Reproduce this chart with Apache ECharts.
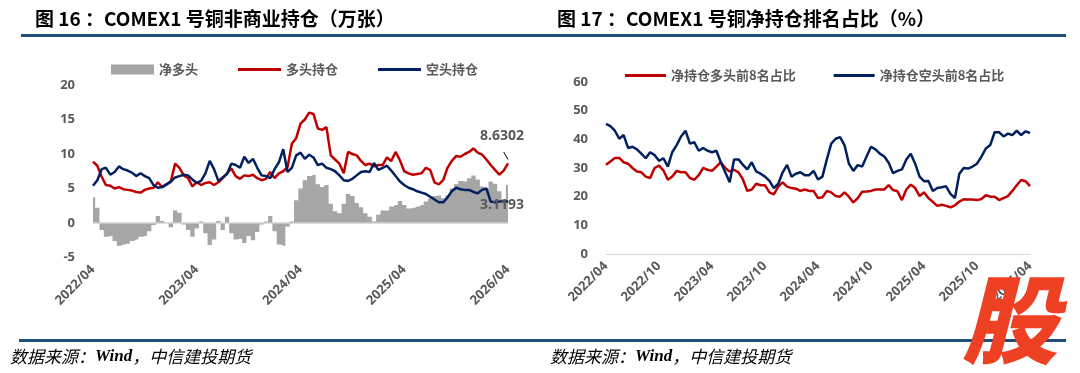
<!DOCTYPE html>
<html>
<head>
<meta charset="utf-8">
<script src="https://cdn.jsdelivr.net/npm/echarts@6/dist/echarts.min.js"></script>
<style>
html,body{margin:0;padding:0;background:#fff;}
#c{width:1080px;height:373px;}
</style>
</head>
<body>
<div id="c"></div>
<script>
// ---- data ----
const leftTicks = ['2022/04','2023/04','2024/04','2025/04','2026/04'];
const rightTicks = ['2022/04','2022/10','2023/04','2023/10','2024/04','2024/10','2025/04','2025/10','2026/04'];

const netLong = [3.7,2.2,-1.0,-2.0,-1.9,-2.6,-3.3,-3.1,-3.0,-2.6,-2.4,-2.0,-1.9,-1.2,-0.3,1.0,0.3,0.0,-0.6,1.8,
1.5,-0.2,-1.0,-2.0,-0.8,0.2,-1.5,-3.2,-2.4,0.3,-1.0,0.9,-1.5,-2.4,-2.3,-2.9,-1.9,-2.5,-1.3,-0.2,
0.2,1.0,-1.2,-3.1,-3.3,-0.5,0.2,3.3,5.0,6.2,6.8,7.0,5.6,5.2,5.5,2.8,1.7,1.4,2.8,4.2,
3.9,2.9,2.3,1.4,0.9,0.2,1.2,1.8,1.8,2.4,2.6,3.2,2.6,2.1,2.2,2.4,2.6,3.1,3.6,3.9,
4.0,3.6,4.0,5.0,5.6,6.1,6.0,6.5,6.9,6.3,5.3,5.0,6.0,5.7,4.6,3.4,5.51];

const longPos = [8.9,8.3,6.7,5.5,5.4,5.0,5.2,4.9,4.8,4.7,4.5,4.4,4.8,5.0,5.1,5.9,5.2,5.6,6.0,8.6,
8.0,6.9,6.5,5.3,5.9,5.5,5.8,5.9,5.5,5.9,6.5,7.2,7.9,6.8,6.4,6.9,6.8,7.0,6.5,6.2,
6.4,7.4,6.5,7.2,7.5,8.1,11.5,12.3,14.4,15.0,16.0,15.8,13.7,13.5,13.9,9.8,9.2,8.6,7.2,10.3,
10.0,9.8,9.0,8.4,8.6,8.2,8.4,8.4,9.5,9.0,10.3,9.1,7.5,7.2,7.0,7.1,7.2,8.0,7.7,5.9,
5.6,6.2,8.0,9.0,9.7,9.6,10.0,10.3,10.8,10.2,9.9,9.2,8.4,7.7,7.0,7.6,8.6302];

const shortPos = [5.4,6.2,7.8,8.0,7.0,7.4,8.2,7.8,7.6,7.3,6.8,7.2,6.8,6.5,5.5,5.1,5.2,5.6,6.0,6.6,
6.8,7.0,6.9,6.3,5.8,6.1,7.2,9.0,7.8,6.1,6.6,7.1,8.6,8.4,8.0,9.6,8.7,9.3,8.0,6.9,
6.8,6.5,7.8,8.8,10.7,7.4,8.0,9.8,10.2,9.3,9.9,9.5,8.4,8.6,8.0,7.8,7.5,6.9,6.2,6.1,
6.4,6.9,7.4,7.5,7.4,8.7,7.7,8.0,8.3,7.6,6.8,6.0,5.5,5.1,4.9,4.6,4.4,4.2,3.8,3.4,
3.0,3.0,3.7,4.6,5.1,4.9,4.8,4.8,4.5,4.3,4.8,5.0,3.1,3.0,3.1,3.2,3.1193];

const top8Long = [31.1,32.3,33.5,33.5,32.0,31.5,30.0,28.8,28.5,27.0,26.5,30.0,30.8,29.2,25.9,27.0,29.0,28.5,28.5,26.5,
25.9,27.5,30.0,29.4,29.0,30.5,32.0,30.0,28.8,29.4,28.5,26.0,22.0,22.5,24.5,24.0,24.0,21.5,20.8,23.5,
25.0,23.5,23.0,22.8,22.0,22.5,22.0,22.0,19.5,19.8,22.0,21.5,20.2,20.0,21.5,20.0,18.0,19.5,21.7,21.8,
22.0,22.5,22.5,22.5,24.0,22.3,21.9,18.8,22.5,24.2,23.0,20.2,21.5,19.5,18.2,16.8,17.2,16.8,16.3,17.0,
18.3,19.1,19.0,19.0,18.8,19.2,20.5,20.0,20.0,18.8,19.5,20.2,22.0,24.0,25.8,25.4,23.7];

const top8Short = [45.4,44.6,43.0,40.2,41.5,37.0,37.4,36.5,35.0,33.4,35.5,34.5,32.5,33.4,30.5,35.5,38.0,41.0,43.0,38.5,
39.0,36.0,37.0,36.0,35.5,36.0,32.0,28.5,25.0,33.0,33.0,31.1,29.5,32.0,28.8,28.0,27.0,25.5,23.0,24.5,
28.5,31.1,27.0,28.0,28.5,27.5,27.5,29.0,26.0,27.0,33.0,38.5,40.2,40.8,38.0,31.5,29.0,31.0,30.5,34.0,
37.4,36.5,35.0,34.0,31.8,28.2,29.0,29.5,33.0,35.0,31.5,27.0,25.4,25.5,22.0,23.0,23.3,23.6,21.0,19.5,
28.0,30.0,29.8,30.5,31.5,34.0,36.8,38.0,42.5,42.5,41.0,42.0,41.5,43.0,41.5,42.8,42.2];

const endLabels = ['8.6302', '3.1193'];

// category labels: two points per month, 2022/04 .. 2026/04
const categories = [];
for (let i = 0; i < longPos.length; i++) {
  const m = Math.floor(i / 2) + 3;
  const y = 2022 + Math.floor(m / 12);
  const mo = (m % 12) + 1;
  categories.push(y + '/' + (mo < 10 ? '0' + mo : mo) + (i % 2 ? '-b' : '-a'));
}

// ---- styles ----
const GRAY_TXT = '#595959';
const RED = '#C00000';
const NAVY = '#002060';
const BAR = '#A6A6A6';
const RULE = '#1F4E79';
const FONT = '"Open Sans","Noto Sans CJK SC",sans-serif';
const CJK = '"Noto Sans CJK SC","Open Sans",sans-serif';
const LINE_ICON = 'path://M0,0 L44,0 L44,3 L0,3 Z';

const chart = echarts.init(document.getElementById('c'), null, {renderer: 'canvas'});

const axisLabelY = {color: GRAY_TXT, fontWeight: 'bold', fontSize: 13, fontFamily: FONT, margin: 18};
function xLabel(step, ticks) {
  return {
    color: GRAY_TXT, fontWeight: 'bold', fontSize: 13, fontFamily: FONT,
    rotate: 45, margin: 10,
    interval: function (idx) { return idx % step === 0; },
    formatter: function (val, idx) { return ticks[idx / step] || ''; }
  };
}

const lastIdx = longPos.length - 1;
const labelFont = {color: GRAY_TXT, fontWeight: 'bold', fontSize: 14, fontFamily: FONT};
const longData = longPos.map(function (v, i) {
  if (i === lastIdx) {
    return {value: v, label: Object.assign({show: true, formatter: endLabels[0], position: 'top', offset: [-6, -15]}, labelFont)};
  }
  return v;
});
const shortData = shortPos.map(function (v, i) {
  if (i === lastIdx) {
    return {value: v, label: Object.assign({show: true, formatter: endLabels[1], position: 'inside', offset: [-6, 4]}, labelFont)};
  }
  return v;
});

function lineSeries(name, xi, data, color) {
  return {
    name: name, type: 'line', xAxisIndex: xi, yAxisIndex: xi, data: data,
    symbol: 'circle', symbolSize: 0, showSymbol: true, showAllSymbol: true,
    lineStyle: {color: color, width: 2.5}, itemStyle: {color: color},
    label: {show: false}
  };
}

const s1 = lineSeries('多头持仓', 0, longData, RED);
s1.markLine = {silent: true, symbol: 'none', label: {show: false},
  lineStyle: {color: '#000', width: 1, type: 'solid'},
  data: [[{coord: [lastIdx - 1, 10.3]}, {coord: [lastIdx, 9.2]}]]};

const option = {
  animation: false,
  backgroundColor: '#fff',
  textStyle: {fontFamily: CJK},
  grid: [
    {left: 93, top: 85, width: 415, height: 172.5},
    {left: 606, top: 82, width: 424, height: 172}
  ],
  legend: [
    {
      left: 106, top: 58, itemWidth: 43, itemHeight: 10, itemGap: 40,
      textStyle: {color: GRAY_TXT, fontWeight: 'bold', fontSize: 13, fontFamily: CJK},
      data: [{name: '净多头', icon: 'rect'}, {name: '多头持仓', icon: LINE_ICON}, {name: '空头持仓', icon: LINE_ICON}]
    },
    {
      left: 620, top: 64, itemWidth: 41, itemHeight: 10, itemGap: 38,
      textStyle: {color: GRAY_TXT, fontWeight: 'bold', fontSize: 13, fontFamily: CJK},
      data: [{name: '净持仓多头前8名占比', icon: LINE_ICON}, {name: '净持仓空头前8名占比', icon: LINE_ICON}]
    }
  ],
  xAxis: [
    {gridIndex: 0, type: 'category', data: categories, boundaryGap: false,
     axisLine: {show: false}, axisTick: {show: false}, splitLine: {show: false},
     axisLabel: xLabel(24, leftTicks)},
    {gridIndex: 1, type: 'category', data: categories, boundaryGap: false,
     axisLine: {show: true, lineStyle: {color: '#D9D9D9', width: 1}}, axisTick: {show: false}, splitLine: {show: false},
     axisLabel: xLabel(12, rightTicks)}
  ],
  yAxis: [
    {gridIndex: 0, type: 'value', min: -5, max: 20, interval: 5,
     axisLine: {show: false}, axisTick: {show: false}, splitLine: {show: false}, axisLabel: axisLabelY},
    {gridIndex: 1, type: 'value', min: 0, max: 60, interval: 10,
     axisLine: {show: false}, axisTick: {show: false}, splitLine: {show: false}, axisLabel: axisLabelY}
  ],
  series: [
    {name: '净多头', type: 'line', step: 'middle', xAxisIndex: 0, yAxisIndex: 0, data: netLong,
     symbol: 'none', showSymbol: false,
     lineStyle: {width: 0, color: BAR}, itemStyle: {color: BAR},
     areaStyle: {color: BAR, opacity: 1},
     markLine: {silent: true, symbol: 'none', label: {show: false},
       lineStyle: {color: '#D0D0D0', width: 1.5, type: 'solid'}, data: [{yAxis: 0}]}},
    s1,
    lineSeries('空头持仓', 0, shortData, NAVY),
    lineSeries('净持仓多头前8名占比', 1, top8Long, RED),
    lineSeries('净持仓空头前8名占比', 1, top8Short, NAVY)
  ],
  graphic: [
    {type: 'text', left: 35, top: 9, style: {text: '图 16 ：COMEX1 号铜非商业持仓（万张）', fill: '#000',
      font: 'bold 19px "Noto Sans CJK SC", sans-serif'}},
    {type: 'text', left: 557, top: 9, style: {text: '图 17 ：COMEX1 号铜净持仓排名占比（%）', fill: '#000',
      font: 'bold 19px "Noto Sans CJK SC", sans-serif'}},
    {type: 'rect', shape: {x: 21, y: 34, width: 1045, height: 3}, style: {fill: RULE}},
    {type: 'rect', shape: {x: 19, y: 339, width: 1047, height: 3}, style: {fill: RULE}},
    {type: 'text', left: 10, top: 348, style: {
      text: '{a|数据来源：}{b|Wind}{a|，中信建投期货}',
      rich: {
        a: {fill: '#000', font: 'italic 17px "Noto Sans CJK SC", serif'},
        b: {fill: '#000', font: 'italic bold 17px "Liberation Serif", serif'}
      }}},
    {type: 'text', left: 550, top: 348, style: {
      text: '{a|数据来源：}{b|Wind}{a|，中信建投期货}',
      rich: {
        a: {fill: '#000', font: 'italic 17px "Noto Sans CJK SC", serif'},
        b: {fill: '#000', font: 'italic bold 17px "Liberation Serif", serif'}
      }}},
    {type: 'text', left: 962, top: 272, z: 100, style: {text: '股', fill: '#EE4124',
      font: 'italic 900 96px "Noto Sans CJK SC", sans-serif'}}
  ]
};
chart.setOption(option);
</script>
</body>
</html>
